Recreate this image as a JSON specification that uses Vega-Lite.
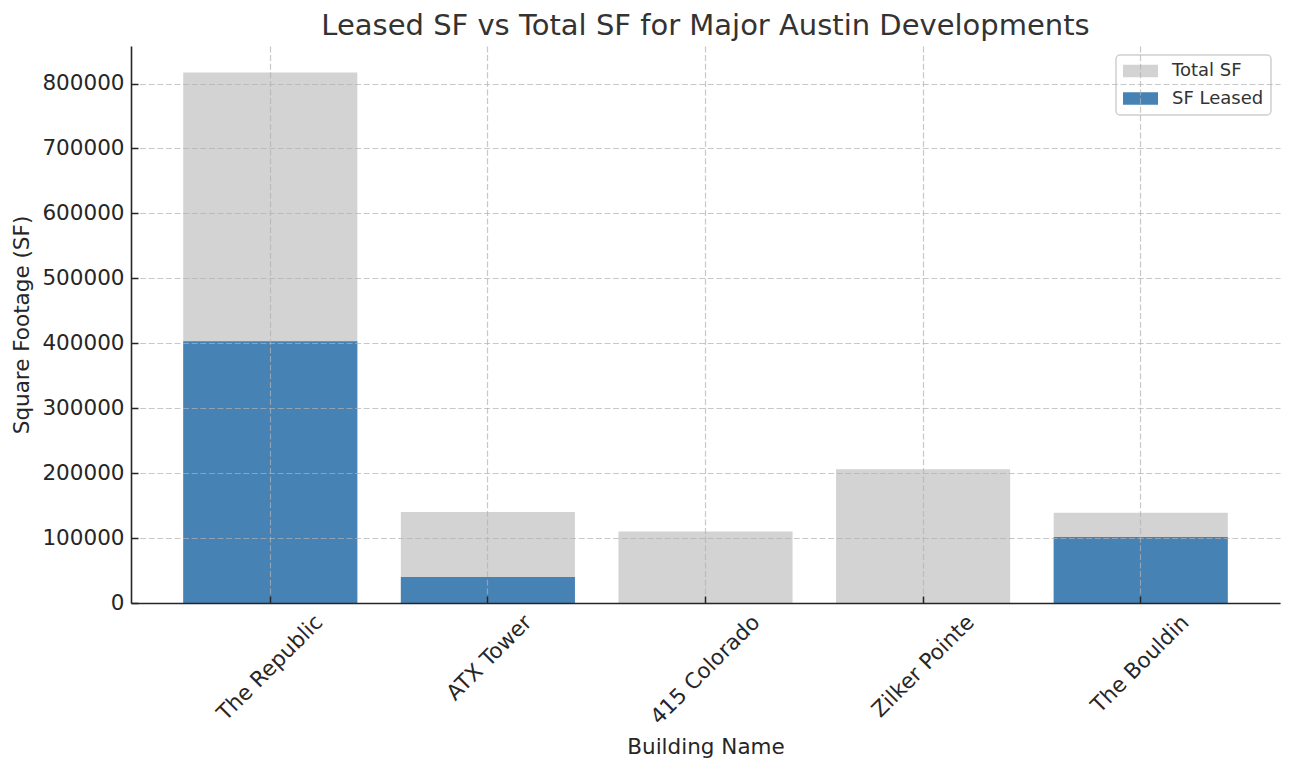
{
  "$schema": "https://vega.github.io/schema/vega-lite/v6.json",
  "width": 1149,
  "height": 557,
  "autosize": {"type": "none"},
  "padding": {"left": 131, "top": 46, "right": 12, "bottom": 167},
  "background": "white",
  "config": {"view": {"stroke": null}, "font": "DejaVu Sans"},
  "title": {
    "text": "Leased SF vs Total SF for Major Austin Developments",
    "fontSize": 29,
    "fontWeight": "normal",
    "font": "DejaVu Sans",
    "color": "#333333",
    "anchor": "middle",
    "frame": "group",
    "offset": 5
  },
  "data": {
    "values": [
      {"building": "The Republic", "series": "Total SF", "sf": 817000},
      {"building": "ATX Tower", "series": "Total SF", "sf": 140000},
      {"building": "415 Colorado", "series": "Total SF", "sf": 110000},
      {"building": "Zilker Pointe", "series": "Total SF", "sf": 206000},
      {"building": "The Bouldin", "series": "Total SF", "sf": 139000},
      {"building": "The Republic", "series": "SF Leased", "sf": 403000},
      {"building": "ATX Tower", "series": "SF Leased", "sf": 40000},
      {"building": "415 Colorado", "series": "SF Leased", "sf": 0},
      {"building": "Zilker Pointe", "series": "SF Leased", "sf": 0},
      {"building": "The Bouldin", "series": "SF Leased", "sf": 101500}
    ]
  },
  "mark": {"type": "bar"},
  "encoding": {
    "x": {
      "field": "building",
      "type": "nominal",
      "sort": ["The Republic", "ATX Tower", "415 Colorado", "Zilker Pointe", "The Bouldin"],
      "scale": {"paddingInner": 0.2, "paddingOuter": 0.24},
      "axis": {
        "title": "Building Name",
        "titleFont": "DejaVu Sans",
        "titleFontSize": 21.5,
        "titleFontWeight": "normal",
        "titleColor": "#262626",
        "titlePadding": 8,
        "labelFont": "DejaVu Sans",
        "labelFontSize": 21.5,
        "labelColor": "#262626",
        "labelAngle": -45,
        "labelAlign": "right",
        "labelBaseline": "middle",
        "labelPadding": 23,
        "labelOverlap": false,
        "labelBound": false,
        "labelLimit": 0,
        "labelOffset": {
          "condition": [
            {"test": "datum.value === 'The Republic'", "value": 49.4},
            {"test": "datum.value === 'ATX Tower'", "value": 40.8},
            {"test": "datum.value === '415 Colorado'", "value": 51.2},
            {"test": "datum.value === 'Zilker Pointe'", "value": 47.9}
          ],
          "value": 45.1
        },
        "tickSize": -7,
        "tickWidth": 1.5,
        "tickColor": "#262626",
        "domainColor": "#262626",
        "domainWidth": 1.6,
        "grid": true,
        "gridColor": "#b0b0b0",
        "gridOpacity": 0.7,
        "gridDash": [6, 2.6],
        "gridWidth": 1.2,
        "bandPosition": 0.5,
        "zindex": 1
      }
    },
    "y": {
      "field": "sf",
      "type": "quantitative",
      "stack": null,
      "scale": {"domain": [0, 857850], "nice": false, "zero": true},
      "axis": {
        "title": "Square Footage (SF)",
        "titleFont": "DejaVu Sans",
        "titleFontSize": 21.5,
        "titleFontWeight": "normal",
        "titleColor": "#262626",
        "titlePadding": 8,
        "values": [0, 100000, 200000, 300000, 400000, 500000, 600000, 700000, 800000],
        "format": "d",
        "labelFont": "DejaVu Sans",
        "labelFontSize": 21.5,
        "labelColor": "#262626",
        "labelPadding": 14,
        "tickSize": -7,
        "tickWidth": 1.5,
        "tickColor": "#262626",
        "domainColor": "#262626",
        "domainWidth": 1.6,
        "grid": true,
        "gridColor": "#b0b0b0",
        "gridOpacity": 0.7,
        "gridDash": [6, 2.6],
        "gridWidth": 1.2,
        "zindex": 1
      }
    },
    "color": {
      "field": "series",
      "type": "nominal",
      "scale": {"domain": ["Total SF", "SF Leased"], "range": ["#d3d3d3", "#4682b4"]},
      "legend": {
        "title": null,
        "orient": "top-right",
        "offset": 9,
        "padding": 7,
        "fillColor": "rgba(255,255,255,0.8)",
        "strokeColor": "#d0d0d0",
        "cornerRadius": 4,
        "symbolType": "M-1,-0.36H1V0.36H-1Z",
        "symbolSize": 1225,
        "symbolStrokeWidth": 0,
        "symbolOpacity": 1,
        "clipHeight": 18,
        "rowPadding": 9.5,
        "labelOffset": 14,
        "labelFont": "DejaVu Sans",
        "labelFontSize": 18,
        "labelColor": "#333333",
        "encode": {"legend": {"update": {"strokeWidth": {"value": 1.5}}}}
      }
    }
  }
}
